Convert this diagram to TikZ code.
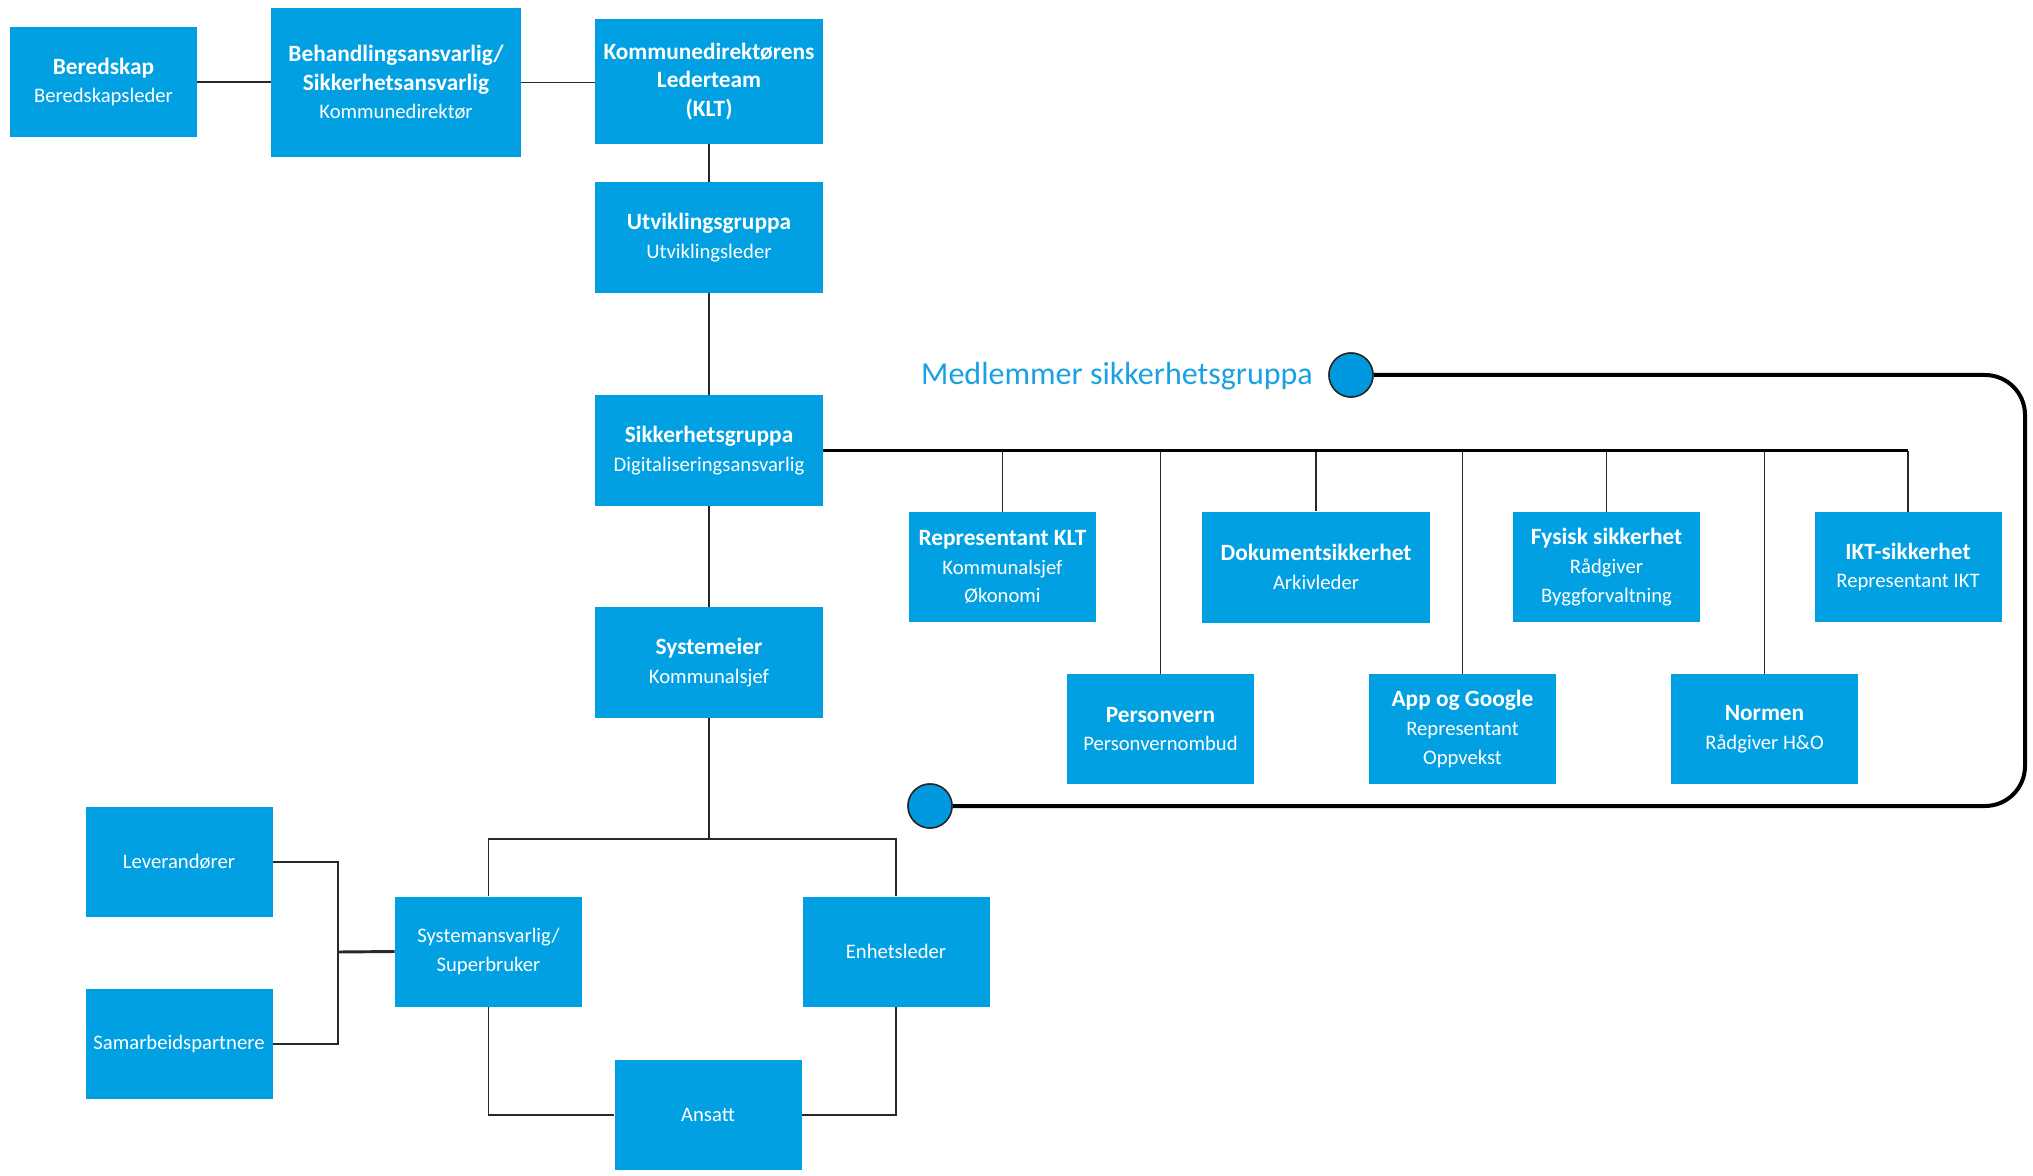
\documentclass[tikz,border=0pt]{standalone}
\usepackage{fontspec}
\setmainfont{Carlito}
\definecolor{boxblue}{RGB}{0,160,226}
\definecolor{labblue}{RGB}{27,161,226}
\definecolor{circblue}{RGB}{0,152,222}
\definecolor{connc}{RGB}{40,40,40}
\newcommand\ttl{\bfseries\fontsize{17.5}{21.5}\selectfont}
\newcommand\subt{\mdseries\fontsize{15.5}{21.5}\selectfont}
\begin{document}
\begin{tikzpicture}[x=0.75pt,y=-0.75pt,
  basebox/.style={fill=boxblue,text=white,align=center,inner sep=0pt,font=\subt},
  sbox/.style={basebox,minimum width=140.25pt,minimum height=82.5pt},
  wbox/.style={basebox,minimum width=171pt,minimum height=83.25pt},
  conn/.style={draw=connc,line width=1.4pt},
  conthick/.style={draw=connc,line width=2.2pt},
  busline/.style={draw=black,line width=2.2pt},
  loopline/.style={draw=black,line width=3pt,rounded corners=30pt},
  circ/.style={circle,fill=circblue,draw=black!85,line width=1.1pt,minimum size=33pt,inner sep=0pt}]
\useasboundingbox (0,0) rectangle (2033,1176);

% top row
\node[sbox] (bered) at (103.5,82) {{\ttl Beredskap}\\Beredskapsleder};
\node[basebox,minimum width=187.5pt,minimum height=111.75pt] (behand) at (396,82.5)
  {{\ttl Behandlingsansvarlig/}\\{\ttl Sikkerhetsansvarlig}\\Kommunedirektør};
\node[basebox,minimum width=171pt,minimum height=93.75pt] (klt) at (709,81.5)
  {{\ttl Kommunedirektørens}\\{\ttl Lederteam}\\{\ttl (KLT)}};

% spine
\node[wbox] (utv) at (709,237.5) {{\ttl Utviklingsgruppa}\\Utviklingsleder};
\node[wbox] (sikk) at (709,450.5) {{\ttl Sikkerhetsgruppa}\\Digitaliseringsansvarlig};
\node[wbox] (syseier) at (709,662.5) {{\ttl Systemeier}\\Kommunalsjef};

% bottom
\node[sbox] (lev) at (179,862) {Leverandører};
\node[sbox] (sam) at (179,1044) {Samarbeidspartnere};
\node[sbox] (sysans) at (488.5,951.5) {Systemansvarlig/\\Superbruker};
\node[sbox] (enhet) at (896,951.5) {Enhetsleder};
\node[sbox] (ansatt) at (708,1115) {Ansatt};

% members
\node[sbox] (repklt) at (1002.5,567) {{\ttl Representant KLT}\\Kommunalsjef\\Økonomi};
\node[wbox] (dok) at (1316,567) {{\ttl Dokumentsikkerhet}\\Arkivleder};
\node[sbox] (fys) at (1606.5,567) {{\ttl Fysisk sikkerhet}\\Rådgiver\\Byggforvaltning};
\node[sbox] (ikt) at (1908,567) {{\ttl IKT-sikkerhet}\\Representant IKT};
\node[sbox] (pers) at (1160.5,729) {{\ttl Personvern}\\Personvernombud};
\node[sbox] (app) at (1462.5,729) {{\ttl App og Google}\\Representant\\Oppvekst};
\node[sbox] (normen) at (1764.5,729) {{\ttl Normen}\\Rådgiver H\&O};

% loop with circles
\node[circ] (c1) at (1351,375) {};
\node[circ] (c2) at (930,806) {};
\node[anchor=east,text=labblue,font=\fontsize{24}{28}\selectfont,inner sep=0pt] (lab) at (1313,376) {Medlemmer sikkerhetsgruppa};
\draw[loopline] (c1.east) -- (2025,375) -- (2025,806) -- (c2.east);
\node[circ] at (c1) {};
\node[circ] at (c2) {};

% connectors top
\draw[conn] (bered.east) -- (bered.east -| behand.west);
\draw[conn] (behand.east) -- (behand.east -| klt.west);
\draw[conn] (klt.south) -- (utv.north);
\draw[conn] (utv.south) -- (sikk.north);
\draw[conn] (sikk.south) -- (syseier.north);

% lower tree
\coordinate (j1) at (709,839);
\draw[conn] (syseier.south) -- (j1);
\draw[conn] (sysans.north) |- (j1) -| (enhet.north);
\draw[conn] (sysans.south) |- (ansatt.west);
\draw[conn] (enhet.south) |- (ansatt.east);
\coordinate (j2) at (338,952);
\draw[conn] (lev.east) -| (j2) |- (sam.east);
\draw[conthick] (j2) -- (sysans.west);

% bus
\foreach \n in {repklt,pers,dok,app,fys,normen,ikt}
  \draw[conn] (\n.north) -- (\n.north |- sikk.east);
\draw[busline] (sikk.east) -- (sikk.east -| ikt.north);
\end{tikzpicture}
\end{document}
